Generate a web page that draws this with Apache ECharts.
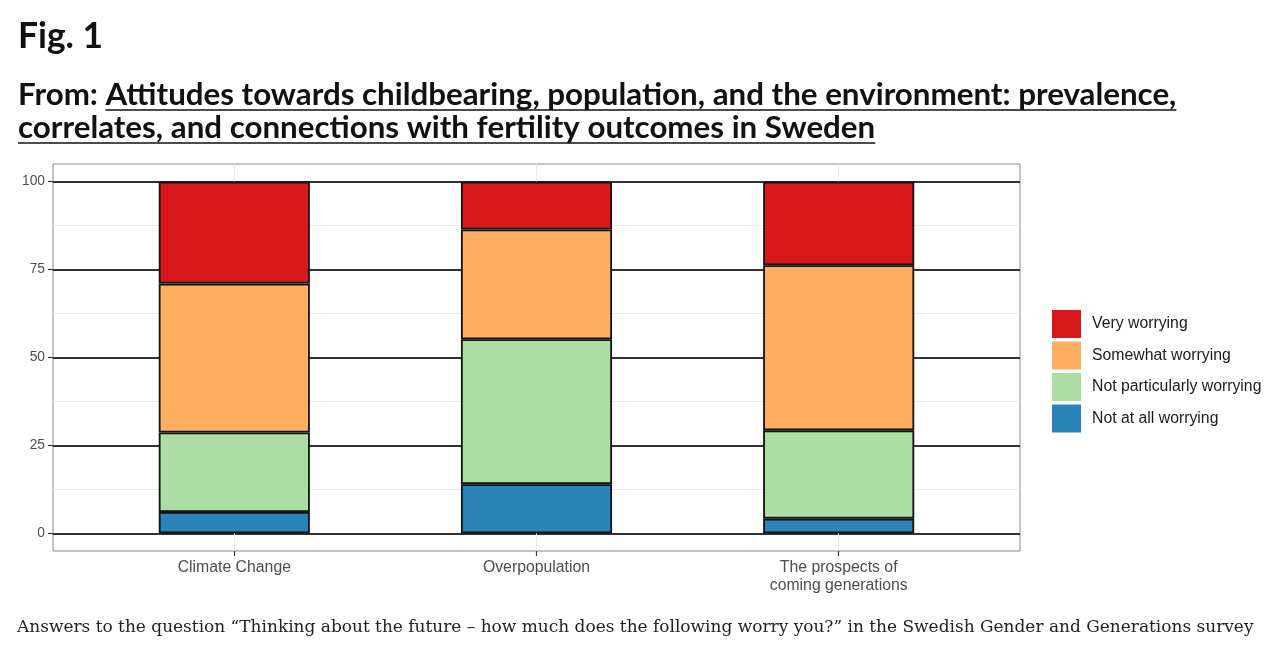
<!DOCTYPE html>
<html>
<head>
<meta charset="utf-8">
<script src="https://cdn.jsdelivr.net/npm/echarts@6/dist/echarts.min.js"></script>
<style>html,body{margin:0;padding:0;background:#fff;}#c{width:1285px;height:650px;}</style>
</head>
<body>
<div id="c"></div>
<script>
// ---- data ----
const categories = ['Climate Change', 'Overpopulation', 'The prospects of\ncoming generations'];
const seriesNames = ['Not at all worrying', 'Not particularly worrying', 'Somewhat worrying', 'Very worrying'];
const notAtAll = [6.1, 14.0, 4.2];
const notParticularly = [22.6, 41.2, 25.1];
const somewhat = [42.3, 31.2, 46.9];
const very = [29.0, 13.6, 23.8];
const yTicks = [0, 25, 50, 75, 100];
const yMinorTicks = [12.5, 37.5, 62.5, 87.5];

const figLabel = 'Fig. 1';
const fromLabel = 'From: ';
const titleLine1 = 'Attitudes towards childbearing, population, and the environment: prevalence,';
const titleLine2 = 'correlates, and connections with fertility outcomes in Sweden';
const caption = 'Answers to the question \u201cThinking about the future \u2013 how much does the following worry you?\u201d in the Swedish Gender and Generations survey';

// ---- styles ----
const colors = ['#2b83ba', '#abdda4', '#fdae61', '#d7191c'];
const valuesList = [notAtAll, notParticularly, somewhat, very];

const ctx = document.createElement('canvas').getContext('2d');
function measure(text, weight, size, family) {
  ctx.font = weight + ' ' + size + 'px ' + family;
  return ctx.measureText(text).width;
}
function fit(text, weight, family, target) {
  return 100 * target / measure(text, weight, 100, family);
}
const headFam = 'Lato';
const headSize = fit(fromLabel + titleLine1, 'bold', headFam, 1159);
const figSize = fit(figLabel, 'bold', headFam, 85);
const capFam = '"DejaVu Serif"';
const capSize = fit(caption, 'normal', capFam, 1238);
const fromW = measure(fromLabel, 'bold', headSize, headFam);
const l1W = measure(fromLabel + titleLine1, 'bold', headSize, headFam);
const l2W = measure(titleLine2, 'bold', headSize, headFam);

// panel geometry: discrete axis spans 0.4..3.6 category units (ggplot expansion)
const panel = { left: 53, top: 164, width: 967, height: 387 };
const unit = panel.width / 3.2;

const chart = echarts.init(document.getElementById('c'));
const series = valuesList.map((vals, i) => ({
  name: seriesNames[i],
  type: 'bar',
  stack: 'total',
  barWidth: '50%',
  xAxisIndex: 1,
  yAxisIndex: 2,
  data: vals,
  itemStyle: { color: colors[i], borderColor: '#111', borderWidth: 1.8 },
  emphasis: { disabled: true }
}));

chart.setOption({
  animation: false,
  grid: [{
    left: panel.left, top: panel.top, width: panel.width, height: panel.height,
    show: true, borderColor: '#8a8a8a', borderWidth: 1, backgroundColor: '#fff'
  }, {
    left: panel.left + 0.1 * unit, top: panel.top, width: 3 * unit, height: panel.height
  }],
  xAxis: [{
    gridIndex: 0, type: 'value', min: 0.4, max: 3.6,
    axisLine: { show: false, onZero: false },
    axisTick: { show: true, customValues: [1, 2, 3], length: 5, lineStyle: { color: '#333', width: 1.2 } },
    axisLabel: {
      customValues: [1, 2, 3],
      formatter: v => categories[Math.round(v) - 1],
      color: '#4d4d4d', fontSize: 15.8, fontFamily: 'Liberation Sans', margin: 8, lineHeight: 18
    },
    splitLine: { show: true, lineStyle: { color: '#ebebeb', width: 1 } }
  }, {
    gridIndex: 1, type: 'category', data: categories, show: false
  }],
  yAxis: [{
    gridIndex: 0, type: 'value', min: -5, max: 105,
    axisLine: { show: false, onZero: false },
    axisTick: { show: true, customValues: yTicks, length: 5, lineStyle: { color: '#333', width: 1.2 } },
    axisLabel: { customValues: yTicks, color: '#4d4d4d', fontSize: 13.8, fontFamily: 'Liberation Sans', margin: 8 },
    splitLine: { show: true, lineStyle: { color: '#333', width: 1.8 } }
  }, {
    gridIndex: 0, type: 'value', min: -5, max: 105, position: 'left',
    axisLine: { show: false, onZero: false },
    axisTick: { show: false, customValues: yMinorTicks },
    axisLabel: { show: false, customValues: yMinorTicks },
    splitLine: { show: true, lineStyle: { color: '#ebebeb', width: 1 } }
  }, {
    gridIndex: 1, type: 'value', min: -5, max: 105, show: false,
    splitLine: { show: false }
  }],
  legend: {
    orient: 'vertical', left: 1052, top: 310, padding: 0,
    data: seriesNames.slice().reverse(),
    icon: 'rect', itemWidth: 29, itemHeight: 28, itemGap: 3.5,
    itemStyle: { borderWidth: 0 },
    textStyle: { fontSize: 15.8, color: '#1a1a1a', fontFamily: 'Liberation Sans', padding: [3, 0, 0, 6] },
    selectedMode: false
  },
  series: series,
  graphic: [
    { type: 'text', x: 18, y: 37, style: { text: figLabel, fontSize: figSize, fontWeight: 'bold', fontFamily: headFam, fill: '#111', verticalAlign: 'middle' } },
    { type: 'text', x: 18, y: 95, style: { text: fromLabel + titleLine1, fontSize: headSize, fontWeight: 'bold', fontFamily: headFam, fill: '#111', verticalAlign: 'middle' } },
    { type: 'text', x: 18, y: 128, style: { text: titleLine2, fontSize: headSize, fontWeight: 'bold', fontFamily: headFam, fill: '#111', verticalAlign: 'middle' } },
    { type: 'line', shape: { x1: 18 + fromW, y1: 110, x2: 18 + l1W, y2: 110 }, style: { stroke: '#111', lineWidth: 1.5 } },
    { type: 'line', shape: { x1: 18, y1: 143, x2: 18 + l2W, y2: 143 }, style: { stroke: '#111', lineWidth: 1.5 } },
    { type: 'text', x: 17, y: 628, style: { text: caption, fontSize: capSize, fontFamily: capFam, fill: '#222', verticalAlign: 'middle' } }
  ]
});
</script>
</body>
</html>
